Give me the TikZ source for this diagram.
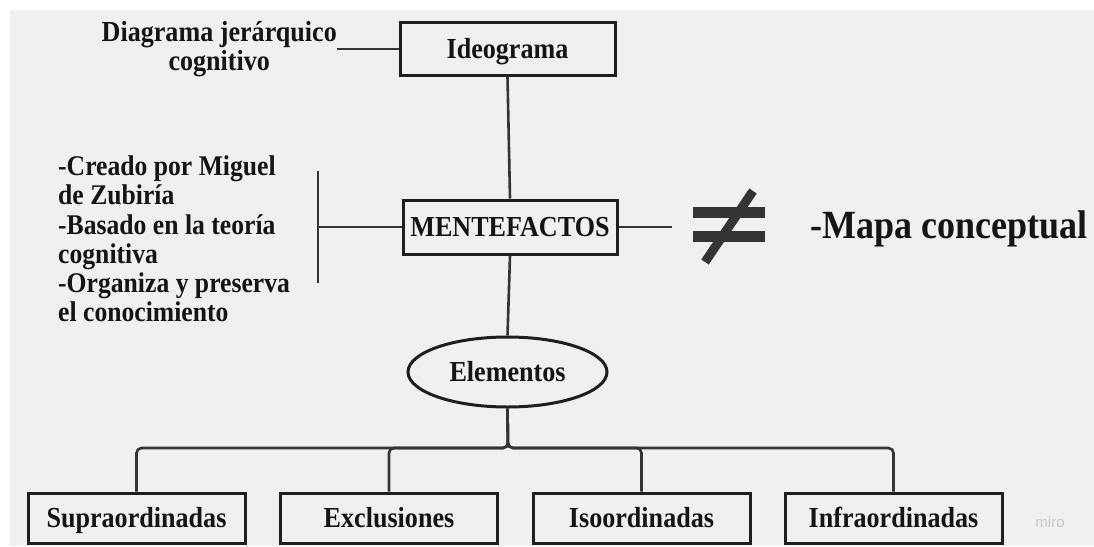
\documentclass[tikz,border=0pt]{standalone}
\usepackage{fontspec}
\setmainfont{Liberation Serif}[FakeStretch=0.9]
\setsansfont{Liberation Sans}
\usetikzlibrary{shapes.geometric}
\definecolor{bg}{RGB}{240,240,240}
\definecolor{ln}{RGB}{52,52,52}
\definecolor{bd}{RGB}{30,30,30}
\definecolor{tx}{RGB}{20,20,20}
\definecolor{wm}{RGB}{200,200,200}
\begin{document}
\begin{tikzpicture}[x=1pt,y=-1pt,
  txt/.style={text=tx,font=\fontsize{29}{29}\selectfont\bfseries,inner sep=0pt},
  box/.style={txt,draw=bd,line width=3pt,fill=bg,minimum width=215pt,minimum height=53pt,text height=19.5pt,text depth=0pt},
  ell/.style={txt,draw=bd,line width=3pt,fill=bg,ellipse,minimum width=199pt,minimum height=70pt,text height=19.5pt,text depth=0pt},
  conn/.style={draw=ln,line width=2.6pt},
  neq/.style={ln}]
\useasboundingbox (0,0) rectangle (1094,546);
\clip (0,0) rectangle (1094,546);
\fill[white] (0,0) rectangle (1094,546);
\fill[bg] (10,10) rectangle (1094,546);

% nodes
\node[box] (ideo) at (507.5,49) {Ideograma};
\node[box,minimum width=214pt,minimum height=54pt] (ment) at (510,227) {MENTEFACTOS};
\node[ell] (elem) at (507.5,372) {Elementos};
\node[txt,align=center,anchor=east] (diag) at (337,49) {Diagrama jerárquico\\cognitivo};
\node[txt,align=left,anchor=west,font=\fontsize{28.5}{29.2}\selectfont\bfseries] (desc) at (58,239)
  {-Creado por Miguel\\de Zubiría\\-Basado en la teoría\\cognitiva\\-Organiza y preserva\\el conocimiento};
\node[txt,anchor=base west,font=\fontsize{40}{44}\selectfont\bfseries] (mapa) at (810,238) {-Mapa conceptual};

\node[box,minimum width=217pt,minimum height=50pt] (b1) at (136.5,518) {Supraordinadas};
\node[box,minimum width=217pt,minimum height=50pt] (b2) at (389,518) {Exclusiones};
\node[box,minimum width=217pt,minimum height=50pt] (b3) at (641.5,518) {Isoordinadas};
\node[box,minimum width=217pt,minimum height=50pt] (b4) at (893.5,518) {Infraordinadas};

\node[text=wm,font=\sffamily\fontsize{15}{15}\selectfont] (miro) at (1050,522) {miro};

% coordinates
\coordinate (brk) at (318,227);
\coordinate (brkT) at (318,171);
\coordinate (brkB) at (318,283);
\coordinate (neqL) at (672,227);
\coordinate (bus) at (508,448);

% connectors
\draw[conn] (diag.east) -- (ideo.west);
\draw[conn] (ideo.south) -- (ment.north);
\draw[conn] (ment.west) -- (brk);
\draw[conn] (brkT) -- (brkB);
\draw[conn] (ment.east) -- (neqL);
\draw[conn] (ment.south) -- (elem.north);
\draw[conn,rounded corners=5pt] (elem.south) -- (bus) -| (b1.north);
\draw[conn,rounded corners=5pt] (elem.south) -- (bus) -| (b2.north);
\draw[conn,rounded corners=5pt] (elem.south) -- (bus) -| (b3.north);
\draw[conn,rounded corners=5pt] (elem.south) -- (bus) -| (b4.north);

% not-equal sign
\fill[neq] (693,207) rectangle (765,218);
\fill[neq] (693,231) rectangle (765,242);
\draw[ln,line width=9pt] (705,262) -- (753,191);
\end{tikzpicture}
\end{document}
